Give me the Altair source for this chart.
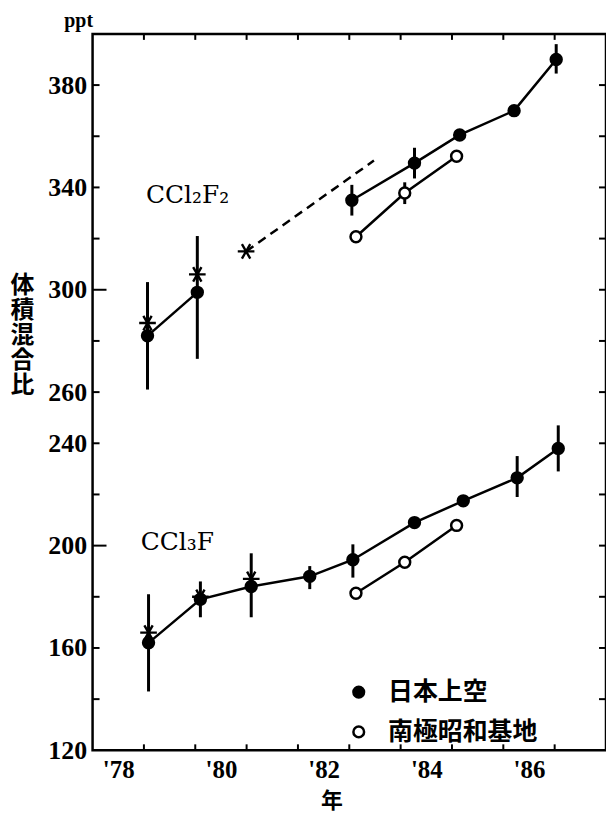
import altair as alt
import pandas as pd

# ---------------- data ----------------
# CCl2F2 - Japan (filled dots), two separate segments
f12_jp_year = [1979.07, 1980.04, 1983.05, 1984.27, 1985.15, 1986.21, 1987.03]
f12_jp_val = [282, 299, 335, 349.5, 360.5, 370, 390]
f12_jp_seg = [1, 1, 2, 2, 2, 2, 2]
f12_jp_err_year = [1979.07, 1980.04, 1983.05, 1984.27, 1987.03]
f12_jp_err_lo = [261, 273, 329, 343.5, 384.5]
f12_jp_err_hi = [303, 321, 341, 355.5, 396]
# CCl2F2 - Syowa (open circles)
f12_sy_year = [1983.13, 1984.08, 1985.09]
f12_sy_val = [320.7, 337.8, 352.2]
f12_sy_err_year = [1984.08]
f12_sy_err_lo = [333.5]
f12_sy_err_hi = [342]
# CCl2F2 - other measurements (asterisks) and dashed trend
f12_star_year = [1979.07, 1980.04, 1980.99]
f12_star_val = [287, 306, 315]
f12_dash_year = [1980.99, 1983.48]
f12_dash_val = [315, 350.5]

# CCl3F - Japan (filled dots)
f11_jp_year = [1979.09, 1980.10, 1981.09, 1982.23, 1983.07, 1984.27, 1985.22, 1986.27, 1987.07]
f11_jp_val = [162, 179, 184, 188, 194.5, 209, 217.5, 226.5, 238]
f11_jp_err_year = [1979.09, 1980.10, 1981.09, 1982.23, 1983.07, 1986.27, 1987.07]
f11_jp_err_lo = [143, 172, 172, 183, 187.5, 219, 229]
f11_jp_err_hi = [181, 186, 197, 192, 200.5, 235, 247]
# CCl3F - Syowa (open circles)
f11_sy_year = [1983.13, 1984.08, 1985.09]
f11_sy_val = [181.4, 193.5, 207.9]
# CCl3F - other measurements (asterisks)
f11_star_year = [1979.09, 1980.10, 1981.09]
f11_star_val = [166, 180, 187]

sites = ["日本上空", "南極昭和基地"]
compound_labels = ["CCl₂F₂", "CCl₃F"]
compound_label_year = [1979.85, 1979.65]
compound_label_val = [337, 201.5]

y_label_values = [120, 160, 200, 240, 260, 300, 340, 380]
y_tick_values = list(range(140, 400, 20))
x_tick_values = list(range(1979, 1988))
x_label_values = [1978.5, 1980.5, 1982.5, 1984.5, 1986.5]

# ---------------- tables ----------------
points = pd.DataFrame({
    "year": f12_jp_year + f12_sy_year + f11_jp_year + f11_sy_year,
    "value": f12_jp_val + f12_sy_val + f11_jp_val + f11_sy_val,
    "site": [sites[0]] * len(f12_jp_year) + [sites[1]] * len(f12_sy_year)
            + [sites[0]] * len(f11_jp_year) + [sites[1]] * len(f11_sy_year),
    "line": [f"f12jp{s}" for s in f12_jp_seg] + ["f12sy"] * len(f12_sy_year)
            + ["f11jp"] * len(f11_jp_year) + ["f11sy"] * len(f11_sy_year),
})
errs = pd.DataFrame({
    "year": f12_jp_err_year + f12_sy_err_year + f11_jp_err_year,
    "lo": f12_jp_err_lo + f12_sy_err_lo + f11_jp_err_lo,
    "hi": f12_jp_err_hi + f12_sy_err_hi + f11_jp_err_hi,
})
stars = pd.DataFrame({"year": f12_star_year + f11_star_year,
                      "value": f12_star_val + f11_star_val})
dash = pd.DataFrame({"year": f12_dash_year, "value": f12_dash_val})
labels = pd.DataFrame({"year": compound_label_year, "value": compound_label_val,
                       "text": compound_labels})
yt = pd.DataFrame({"v": y_tick_values})
xt = pd.DataFrame({"t": x_tick_values})

W, H = 516, 720
SERIF = "Liberation Serif"
CJK = "Noto Sans CJK JP"

xs = alt.Scale(domain=[1978, 1988], nice=False, zero=False)
ys = alt.Scale(domain=[120, 400], nice=False, zero=False)

AX_X = alt.Axis(values=x_label_values, ticks=False, domain=False, grid=False,
                labelExpr="\"'\" + substring(toString(floor(datum.value)), 2, 4)",
                labelFont=SERIF, labelFontSize=25, labelFontWeight="bold",
                labelColor="black", labelPadding=7,
                title="年", titleFont=CJK, titleFontSize=22, titleFontWeight="bold",
                titleColor="black", titlePadding=8, titleX=240, titleAlign="center")
AX_Y = alt.Axis(values=y_label_values, ticks=False, domain=False, grid=False,
                labelFont=SERIF, labelFontSize=26, labelFontWeight="bold",
                labelColor="black", labelPadding=6,
                title=["体", "積", "混", "合", "比"], titleAngle=0,
                titleFont=CJK, titleFontSize=24, titleFontWeight="bold",
                titleColor="black", titleLineHeight=25,
                titleX=-71, titleY=241, titleAlign="center", titleBaseline="top")


def X(f):
    return alt.X(f, type="quantitative", scale=xs, axis=AX_X)


def Y(f):
    return alt.Y(f, type="quantitative", scale=ys, axis=AX_Y)


errbars = alt.Chart(errs).mark_rule(color="black", strokeWidth=3).encode(
    x=X("year"), y=Y("lo"), y2="hi")

lines = alt.Chart(points).mark_line(color="black", strokeWidth=2.5).encode(
    x=X("year"), y=Y("value"), detail="line:N")

dashed = alt.Chart(dash).mark_line(color="black", strokeWidth=2.5,
                                   strokeDash=[9, 6]).encode(
    x=X("year"), y=Y("value"))

STAR = "M-1,0L1,0M-0.5,-0.87L0.5,0.87M-0.5,0.87L0.5,-0.87"
star_pts = alt.Chart(stars).mark_point(shape=STAR, filled=False, color="black",
                                       strokeWidth=2.4, size=280, opacity=1).encode(
    x=X("year"), y=Y("value"))

dots = alt.Chart(points).mark_point(shape="circle", filled=True, size=120,
                                    stroke="black", strokeWidth=2.5, opacity=1).encode(
    x=X("year"), y=Y("value"),
    fill=alt.Fill("site:N",
                  scale=alt.Scale(domain=sites, range=["black", "white"]),
                  legend=alt.Legend(orient="none", legendX=255, legendY=649,
                                    direction="vertical", title=None,
                                    labelFont=CJK, labelFontSize=25,
                                    labelFontWeight="bold", labelColor="black",
                                    symbolType="circle", symbolSize=115,
                                    symbolStrokeColor="black", symbolStrokeWidth=2.5,
                                    symbolOpacity=1, rowPadding=14, labelOffset=17,
                                    padding=0)))

texts = alt.Chart(labels).mark_text(font="DejaVu Serif", fontSize=25, color="black",
                                    align="center", baseline="middle").encode(
    x=X("year"), y=Y("value"), text="text:N")

ppt = alt.Chart(pd.DataFrame({"t": ["ppt"]})).mark_text(
    font=SERIF, fontSize=20, fontWeight="bold", color="black",
    align="center", baseline="alphabetic").encode(
    x=alt.value(-14), y=alt.value(-7), text="t:N")

# inward ticks on all four sides
left_minor = alt.Chart(yt).transform_filter("datum.v % 100 != 0").mark_rule(
    color="black", strokeWidth=2).encode(y=Y("v"), x=alt.value(0), x2=alt.value(7))
left_major = alt.Chart(yt).transform_filter("datum.v % 100 == 0").mark_rule(
    color="black", strokeWidth=2).encode(y=Y("v"), x=alt.value(0), x2=alt.value(14))
right_t = alt.Chart(yt).mark_rule(color="black", strokeWidth=2).encode(
    y=Y("v"), x=alt.value(W - 7), x2=alt.value(W))
bottom_t = alt.Chart(xt).mark_rule(color="black", strokeWidth=2).encode(
    x=X("t"), y=alt.value(H - 6), y2=alt.value(H))
top_t = alt.Chart(xt).mark_rule(color="black", strokeWidth=2).encode(
    x=X("t"), y=alt.value(0), y2=alt.value(6))

chart = alt.layer(
    left_minor, left_major, right_t, bottom_t, top_t,
    errbars, lines, dashed, star_pts, dots, texts, ppt
).properties(
    width=W, height=H,
    autosize=alt.AutoSizeParams(type="none"),
    padding={"left": 85, "top": 24, "right": 0, "bottom": 67},
    background="white",
).configure_view(stroke="black", strokeWidth=2.5)

chart.save("out.html", embed_options={"renderer": "svg", "actions": False})
